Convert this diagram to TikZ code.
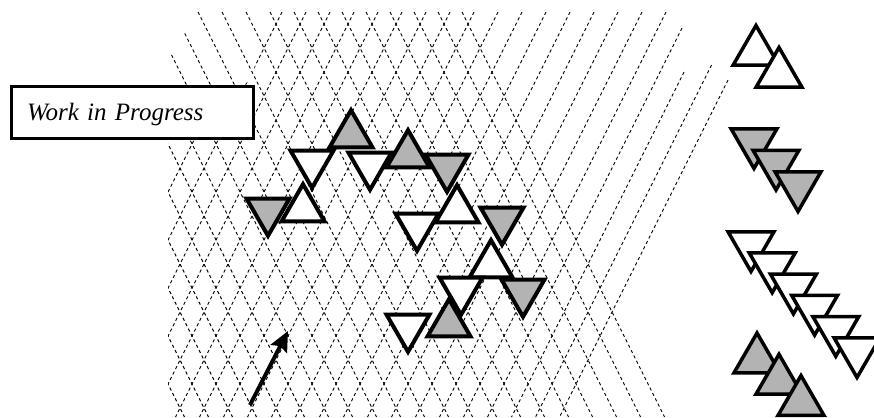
\documentclass[tikz,border=0pt]{standalone}
\usepackage{fontspec}
\setmainfont{Liberation Serif}
\usetikzlibrary{arrows.meta, shapes.geometric}
\definecolor{trigray}{RGB}{179,179,179}
\tikzset{
  tri/.style={
    regular polygon, regular polygon sides=3,
    draw=black, line width=4pt, fill=#1,
    inner sep=0pt, minimum size=49.6pt,
  },
  tridn/.style={tri=#1, shape border rotate=180},
  stair/.style={
    regular polygon, regular polygon sides=3,
    draw=black, line width=3.5pt, fill=#1,
    inner sep=0pt, minimum size=53pt,
  },
  stairdn/.style={stair=#1, shape border rotate=180},
  gridline/.style={black, line width=0.9pt, dash pattern=on 3.2pt off 2.8pt},
  wipbox/.style={
    draw=black, line width=3pt, fill=white,
    minimum width=242pt, minimum height=52pt,
    inner xsep=15.5pt, inner ysep=0pt, text width=211pt, align=left,
    text height=17pt, text depth=0pt,
    font=\fontsize{25}{30}\selectfont\itshape,
  },
  pointer/.style={-{Stealth[length=20pt, width=18pt, inset=3pt]}, line width=4pt},
}

\begin{document}
\begin{tikzpicture}[x=1pt, y=-1pt]
\useasboundingbox (0,0) rectangle (874,417);

% =====================================================================
%  DASHED LATTICE
% =====================================================================

% falling lines
\begin{scope}
  \clip (197,10) -- (480,10) -- (682,419) -- (168,419) -- (168,57) -- cycle;
  \foreach \k in {-9,...,11}
    \draw[gridline] (198+24*\k, 12) -- (198+24*\k+202.5, 417);
\end{scope}

% rising lines
\begin{scope}
  \clip (274,10) -- (874,10) -- (874,419) -- (168,419) -- (168,145) -- (250,80) -- cycle;
  \foreach \k in {-4,...,16}
    \draw[gridline] (282+24*\k, 12) -- (282+24*\k-202.5, 417);
  \foreach \k/\yt in {17/28, 18/72, 19/65, 20/80}
    \draw[gridline] ({282+24*\k-(\yt-12)/2}, \yt) -- (282+24*\k-202.5, 417);
\end{scope}

% label box
\node[wipbox] (wip) at (132.5,112.5) {Work in Progress};

% =====================================================================
%  TRIANGLE CHAIN
% =====================================================================
\node[tridn=trigray] (gd1) at (268,211) {};
\node[tridn=white]   (wd1) at (312,163) {};
\node[tri=white]     (wu1) at (303,209) {};
\node[tri=trigray]   (gu1) at (351,135) {};
\node[tridn=white]   (wd2) at (370,165) {};
\node[tri=trigray]   (gu2) at (408,155) {};
\node[tridn=trigray] (gd2) at (447,167) {};
\node[tri=white]     (wu2) at (457,210) {};
\node[tridn=white]   (wd3) at (417,226) {};
\node[tridn=trigray] (gd3) at (502,220) {};
\node[tri=white]     (wu3) at (491,265) {};
\node[tridn=trigray] (gd4) at (523,292) {};
\node[tridn=white]   (wd4) at (461,290) {};
\node[tri=trigray]   (gu3) at (449,324) {};
\node[tridn=white]   (wd5) at (408,327) {};

% =====================================================================
%  STACKED GROUPS (right column)
% =====================================================================
\foreach \i in {0,1}
  \node[stair=white] (pair\i) at (756+23*\i, 52+22*\i) {};
\foreach \i in {0,1,2}
  \node[stairdn=trigray] (gstep\i) at (754+22*\i, 142+21.5*\i) {};
\foreach \i in {0,...,5}
  \node[stairdn=white] (wstep\i) at (751+21.2*\i, 245+21.2*\i) {};
\foreach \i in {0,1,2}
  \node[stair=trigray] (grun\i) at (757+22*\i, 359.5+21.3*\i) {};

% pointer arrow
\coordinate (tail) at (250,405);
\coordinate (tip) at (288,331);
\draw[pointer] (tail) -- (tip);

\end{tikzpicture}
\end{document}
